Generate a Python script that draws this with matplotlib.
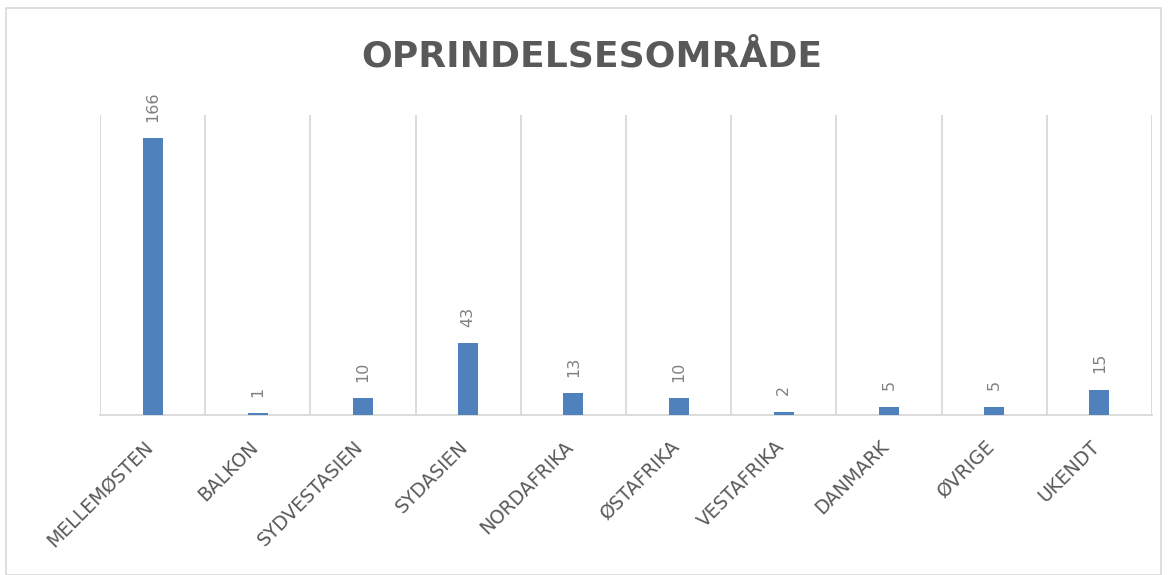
import numpy as np
import matplotlib.pyplot as plt
import matplotlib.transforms as mtransforms
from matplotlib.patches import Rectangle

categories = ['MELLEMØSTEN', 'BALKON', 'SYDVESTASIEN', 'SYDASIEN', 'NORDAFRIKA',
              'ØSTAFRIKA', 'VESTAFRIKA', 'DANMARK', 'ØVRIGE', 'UKENDT']
counts = [166, 1, 10, 43, 13, 10, 2, 5, 5, 15]
title = 'OPRINDELSESOMRÅDE'

plt.rcParams['font.family'] = ['DejaVu Sans']

fig = plt.figure(figsize=(11.68, 5.75), dpi=100)
ax = fig.add_axes([100/1168, 1 - 415/575, 1052/1168, 300/575])

x = np.arange(len(categories))
ax.bar(x, counts, width=0.19, color='#4f81bd', zorder=3)

for xi, v in zip(x, counts):
    ax.annotate(str(v), (xi, v), xytext=(0, 12), textcoords='offset points',
                rotation=90, ha='center', va='bottom', fontsize=11.5,
                color='#808080')

ax.set_xlim(-0.5, len(categories) - 0.5)
ax.set_ylim(0, 180)
ax.set_xticks(x)
ax.set_xticklabels(categories, rotation=45, ha='right', fontsize=13.5,
                   color='#595959')
ax.tick_params(axis='x', length=0, pad=16)
# nudge slanted labels so they end right under the bar
shift = mtransforms.ScaledTranslation(4/100, 0, fig.dpi_scale_trans)
for lbl in ax.get_xticklabels():
    lbl.set_transform(lbl.get_transform() + shift)
ax.set_yticks([])
ax.set_xticks(np.arange(-0.5, len(categories)), minor=True)
ax.tick_params(axis='x', which='minor', length=0)
ax.grid(True, which='minor', axis='x', color='#d9d9d9', linewidth=1.3, zorder=0)

for side in ['top', 'right', 'left']:
    ax.spines[side].set_visible(False)
ax.spines['bottom'].set_color('#d9d9d9')
ax.spines['bottom'].set_linewidth(1.3)

fig.text(0.507, 0.902, title, ha='center', va='center', fontsize=26,
         fontweight='bold', color='#595959')

fig.patches.append(Rectangle((6/1168, 0), 1155/1168, 1 - 8/575,
                             transform=fig.transFigure, fill=False,
                             edgecolor='#d9d9d9', linewidth=1.2))

fig.savefig('out.png', dpi=100)
